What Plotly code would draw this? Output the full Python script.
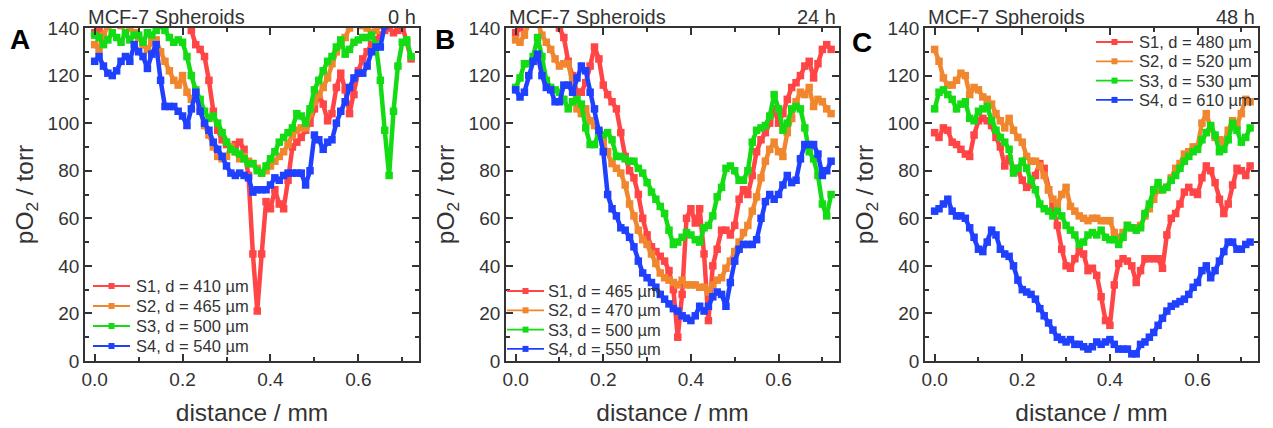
import plotly.graph_objects as go

# ---------------- data ----------------
DIST_MM = [round(i * 0.01, 2) for i in range(73)]  # 0.00 ... 0.72 mm

# Panel A: 0 h
A_S1 = [138,139,142,143,144,145,145,145,145,145,
        145,145,145,145,145,145,145,145,145,145,
        144,143,139,133,131,128,118,105,97,93,
        91,90,91,92,89,78,45,21,45,67,
        64,72,66,64,76,90,92,94,97,100,
        106,112,108,101,104,115,121,114,104,112,
        122,127,130,133,135,137,139,140,138,139,
        141,134,127]
A_S2 = [133,131,137,141,142,142,141,142,140,138,
        136,133,131,134,135,130,126,122,118,116,
        120,113,110,113,106,99,95,90,86,85,
        86,90,88,85,86,84,83,81,79,80,
        82,84,86,88,91,95,97,98,98,104,
        109,112,115,119,125,130,133,136,140,142,
        142,141,140,138,139,141,143,144,145,145,
        145,144,144]
A_S3 = [137,136,133,135,138,136,134,138,135,137,
        137,134,138,137,139,141,139,136,134,135,
        134,128,120,114,110,105,102,103,100,96,
        92,89,88,87,85,83,83,80,79,82,
        85,88,92,94,96,98,104,103,100,106,
        114,118,122,126,128,132,135,129,131,134,
        135,136,136,137,133,118,97,78,105,124,
        134,135,128]
A_S4 = [126,128,124,121,120,122,126,128,126,133,
        130,128,123,129,133,118,107,107,107,105,
        103,99,106,113,105,100,97,92,89,86,
        82,79,78,79,78,77,71,72,72,72,
        74,77,76,78,79,79,79,79,74,80,
        95,93,89,92,93,100,105,109,115,119,
        121,121,124,130,132,132,141,145,148,148,
        146,145,145]

# Panel B: 24 h
B_S1 = [138,140,143,144,144,144,144,144,143,142,
        140,136,126,120,113,113,117,124,132,127,
        116,112,109,106,96,86,80,77,70,60,
        53,48,46,44,42,38,30,10,28,60,
        64,58,64,45,17,40,47,55,55,53,
        57,68,72,70,78,88,93,96,100,106,
        100,104,110,115,117,120,124,126,119,125,
        131,133,131]
B_S2 = [135,134,137,142,143,143,137,134,131,127,
        124,125,125,117,106,104,106,101,99,96,
        92,88,83,81,79,74,66,61,55,51,
        49,45,41,37,35,34,33,32,34,32,
        32,32,31,31,29,32,34,35,39,42,
        46,50,54,57,63,69,77,84,89,92,
        88,86,96,102,109,113,112,115,107,110,
        109,106,104]
B_S3 = [115,119,125,125,128,136,128,118,115,114,
        113,110,106,109,110,108,98,91,91,96,
        95,96,93,86,86,85,84,84,81,79,
        75,71,68,65,62,55,49,50,52,54,
        53,51,50,56,57,61,69,73,81,82,
        80,76,76,80,92,97,98,99,103,112,
        106,97,100,106,107,106,98,88,85,78,
        66,61,70]
B_S4 = [114,111,113,120,126,129,120,115,114,109,
        109,116,116,113,119,124,122,113,106,97,
        88,70,64,61,56,55,52,48,42,37,
        35,33,31,28,26,24,22,21,19,18,
        17,19,23,21,23,27,29,28,23,33,
        42,47,49,49,49,51,60,67,70,68,
        70,74,78,75,76,85,91,91,91,87,
        78,80,84]

# Panel C: 48 h
C_S1 = [96,94,98,97,92,91,89,87,86,95,
        101,102,101,99,94,90,82,85,81,80,
        76,73,74,78,83,81,72,65,57,47,
        40,39,43,46,45,38,39,36,27,17,
        15,32,41,43,42,40,33,38,43,43,
        43,43,39,53,60,62,66,71,73,71,
        70,77,82,80,75,68,62,66,74,81,
        80,78,82]
C_S2 = [131,126,119,116,116,118,121,120,112,115,
        114,111,110,108,104,101,98,102,97,94,
        92,86,84,84,82,78,72,68,66,70,
        73,65,63,61,60,59,60,60,59,59,
        59,54,52,54,57,56,56,57,61,64,
        68,72,72,73,77,81,83,87,88,90,
        90,100,104,98,94,93,92,97,101,99,
        104,110,109]
C_S3 = [106,113,114,112,110,106,108,109,102,101,
        105,106,107,101,97,94,92,89,79,81,
        84,81,76,72,66,64,63,61,63,61,
        57,55,53,49,50,53,54,53,55,52,
        51,51,49,52,57,56,55,56,62,66,
        72,75,72,73,76,78,81,84,86,88,
        89,93,96,99,95,88,89,93,100,97,
        92,94,98]
C_S4 = [63,64,66,68,63,61,61,60,56,52,
        47,46,50,55,53,47,45,44,40,34,
        30,29,28,26,22,19,16,13,10,9,
        8,9,7,7,6,5,6,8,7,8,
        9,7,5,5,5,3,3,7,8,10,
        12,15,18,21,23,24,25,26,28,31,
        33,38,40,35,38,42,46,50,50,47,
        47,49,50]

A_LABELS = ["S1, d = 410 µm", "S2, d = 465 µm", "S3, d = 500 µm", "S4, d = 540 µm"]
B_LABELS = ["S1, d = 465 µm", "S2, d = 470 µm", "S3, d = 500 µm", "S4, d = 550 µm"]
C_LABELS = ["S1, d = 480 µm", "S2, d = 520 µm", "S3, d = 530 µm", "S4, d = 610 µm"]
TIMES = ["0 h", "24 h", "48 h"]
LETTERS = ["A", "B", "C"]
X_TICKS = [0.0, 0.2, 0.4, 0.6]
X_TICKTEXT = ["0.0", "0.2", "0.4", "0.6"]
Y_TICKS = [0, 20, 40, 60, 80, 100, 120, 140]

# ---------------- style / geometry ----------------
COLORS = ["#FF4545", "#F0872E", "#14DC14", "#2040FF"]
FONT = "Arial, Liberation Sans, sans-serif"
AX = "#333333"
W, H = 1273, 428
PLOT_TOP, PLOT_BOT = 28, 361  # pixel rows of the plot area
MT, MB = PLOT_TOP, H - PLOT_BOT
PH = H - MT - MB

def px(sx):   # pixel column -> paper x
    return sx / W

def py(sy):   # pixel row -> paper y
    return (PLOT_BOT - sy) / PH

x_dom = [(85, 419), (506, 839), (925, 1258)]   # pixel columns of each plot area

fig = go.Figure()

panels = [
    ([A_S1, A_S2, A_S3, A_S4], A_LABELS),
    ([B_S1, B_S2, B_S3, B_S4], B_LABELS),
    ([C_S1, C_S2, C_S3, C_S4], C_LABELS),
]

for pi, (series, labels) in enumerate(panels):
    xa = "x" if pi == 0 else f"x{pi + 1}"
    ya = "y" if pi == 0 else f"y{pi + 1}"
    for si, (vals, lab) in enumerate(zip(series, labels)):
        fig.add_trace(go.Scatter(
            x=DIST_MM, y=vals, name=lab, xaxis=xa, yaxis=ya,
            mode="lines+markers",
            line=dict(color=COLORS[si], width=4.5),
            marker=dict(symbol="square", size=7.5, color=COLORS[si], line=dict(width=0)),
            showlegend=False,
        ))

layout = dict(
    width=W, height=H,
    margin=dict(l=0, r=0, t=MT, b=MB),
    paper_bgcolor="white", plot_bgcolor="white",
    font=dict(family=FONT, color=AX),
    showlegend=False,
)

for pi in range(3):
    sfx = "" if pi == 0 else str(pi + 1)
    x0, x1 = x_dom[pi]
    layout[f"xaxis{sfx}"] = dict(
        domain=[px(x0), px(x1)], anchor=f"y{sfx}", range=[-0.022, 0.738],
        tickvals=X_TICKS, ticktext=X_TICKTEXT,
        ticks="inside", ticklen=7, tickwidth=1.5, tickcolor=AX,
        minor=dict(dtick=0.1, tick0=0, ticks="inside", ticklen=4, tickwidth=1.5, tickcolor=AX),
        showline=True, linecolor=AX, linewidth=1.8, mirror="allticks",
        showgrid=False, zeroline=False,
        tickfont=dict(size=19, color=AX, family=FONT),
        title=dict(text="distance / mm", font=dict(size=24.5, color=AX, family=FONT), standoff=15),
        automargin=False,
    )
    layout[f"yaxis{sfx}"] = dict(
        domain=[0, 1], anchor=f"x{sfx}", range=[0, 140],
        tickvals=Y_TICKS,
        ticks="inside", ticklen=7, tickwidth=1.5, tickcolor=AX,
        minor=dict(dtick=10, tick0=0, ticks="inside", ticklen=4, tickwidth=1.5, tickcolor=AX),
        showline=True, linecolor=AX, linewidth=1.8, mirror="allticks",
        showgrid=False, zeroline=False,
        tickfont=dict(size=19, color=AX, family=FONT),
        title=dict(text="pO<sub>2</sub> / torr", font=dict(size=24.5, color=AX, family=FONT), standoff=7),
        automargin=False,
    )

annotations = []
shapes = []
for pi in range(3):
    x0, x1 = x_dom[pi]
    annotations.append(dict(text="MCF-7 Spheroids", x=px(x0 + 1), y=py(17), xref="paper", yref="paper",
                            xanchor="left", yanchor="middle", showarrow=False,
                            font=dict(size=20, color=AX, family=FONT)))
    annotations.append(dict(text=TIMES[pi], x=px(x1 - 1), y=py(17), xref="paper", yref="paper",
                            xanchor="right", yanchor="middle", showarrow=False,
                            font=dict(size=20, color=AX, family=FONT)))

letter_pos = [(20, 39), (445, 39), (862, 42)]
for pi in range(3):
    lx, ly = letter_pos[pi]
    annotations.append(dict(text=f"<b>{LETTERS[pi]}</b>", x=px(lx), y=py(ly), xref="paper", yref="paper",
                            xanchor="center", yanchor="middle", showarrow=False,
                            font=dict(size=28, color="black", family=FONT)))

# legends: (line start, line end, text start, first row centre, row step) in pixels
legend_geo = [(93, 130, 134, 286, 20), (507, 544, 546, 291, 19.3), (1096, 1133, 1137, 42, 19.3)]
for pi, (series, labels) in enumerate(panels):
    l0, l1, tx, y0, dy = legend_geo[pi]
    for si, lab in enumerate(labels):
        yc = y0 + dy * si
        shapes.append(dict(type="line", xref="paper", yref="paper",
                           x0=px(l0), x1=px(l1), y0=py(yc), y1=py(yc),
                           line=dict(color=COLORS[si], width=1.8), layer="above"))
        mc = (l0 + l1) / 2
        shapes.append(dict(type="rect", xref="paper", yref="paper",
                           x0=px(mc - 3), x1=px(mc + 3), y0=py(yc + 3), y1=py(yc - 3),
                           fillcolor=COLORS[si], line=dict(width=0), layer="above"))
        annotations.append(dict(text=lab, x=px(tx), y=py(yc), xref="paper", yref="paper",
                                xanchor="left", yanchor="middle", showarrow=False,
                                font=dict(size=16.5, color=AX, family=FONT)))

layout["annotations"] = annotations
layout["shapes"] = shapes

fig.update_layout(**layout)
# remove the browser's default 8px page margin so the figure fills the window exactly
fig.write_html("out.html",
               config={"displayModeBar": False},
               post_script="document.body.style.margin='0';document.body.style.padding='0';")
